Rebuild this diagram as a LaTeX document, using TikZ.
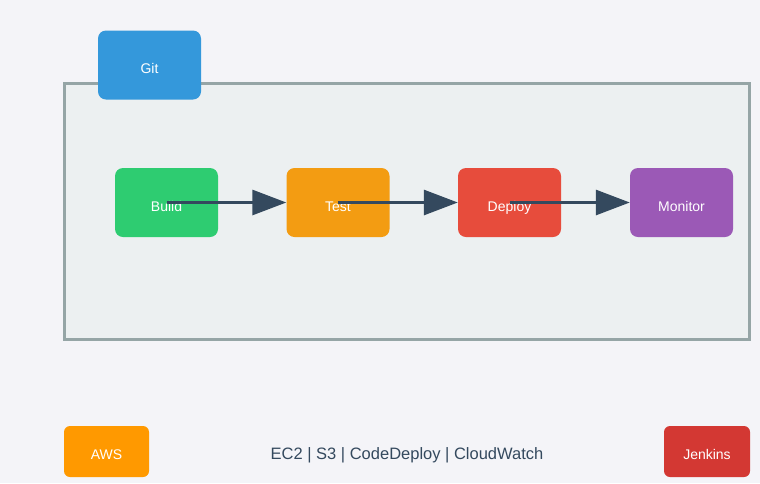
\documentclass[tikz,border=0pt]{standalone}
\usepackage{fontspec}
\setmainfont{Liberation Sans}
\usetikzlibrary{arrows.meta}
\definecolor{bgcol}{HTML}{F4F4F8}
\definecolor{panelfill}{HTML}{ECF0F1}
\definecolor{panelline}{HTML}{95A5A6}
\definecolor{arrowcol}{HTML}{34495E}
\definecolor{gitcol}{HTML}{3498DB}
\definecolor{buildcol}{HTML}{2ECC71}
\definecolor{testcol}{HTML}{F39C12}
\definecolor{deploycol}{HTML}{E74C3C}
\definecolor{monitorcol}{HTML}{9B59B6}
\definecolor{awscol}{HTML}{FF9900}
\definecolor{jenkinscol}{HTML}{D33833}
\tikzset{
    stagebox/.style={fill=#1, rounded corners=8pt, minimum width=103pt, minimum height=69pt,
        text=white, font=\fontsize{14}{16}\selectfont, inner sep=0pt,
        text height=17pt, text depth=0pt},
    toolbox/.style={fill=#1, rounded corners=6pt, minimum width=86pt, minimum height=51pt,
        text=white, font=\fontsize{14}{16}\selectfont, inner sep=0pt,
        text height=16pt, text depth=0pt},
    flow/.style={draw=arrowcol, line width=3pt, -{Triangle[length=34pt,width=25pt]}}
}
\begin{document}
\begin{tikzpicture}[x=1pt, y=-1pt]
    \useasboundingbox[fill=bgcol] (0,0) rectangle (760,483);
    \draw[panelline, fill=panelfill, line width=3pt] (64.5,83.5) rectangle (749.5,339.5);
    \node[stagebox=gitcol] (git) at (149.5,65) {Git};
    \foreach \name/\label/\col/\x in {
        build/Build/buildcol/166.5,
        test/Test/testcol/338,
        deploy/Deploy/deploycol/509.5,
        monitor/Monitor/monitorcol/681.5
    } {
        \node[stagebox=\col] (\name) at (\x,202.5) {\label};
    }
    \foreach \from/\to in {build/test, test/deploy, deploy/monitor} {
        \draw[flow] (\from.center) -- (\to.west);
    }
    \node[toolbox=awscol, minimum width=85pt] (aws) at (106.5,451.5) {AWS};
    \node[toolbox=jenkinscol] (jenkins) at (707,451.5) {Jenkins};
    \node[text=arrowcol, font=\fontsize{16.5}{18}\selectfont] (services) at (407,455)
        {EC2 | S3 | CodeDeploy | CloudWatch};
\end{tikzpicture}
\end{document}
